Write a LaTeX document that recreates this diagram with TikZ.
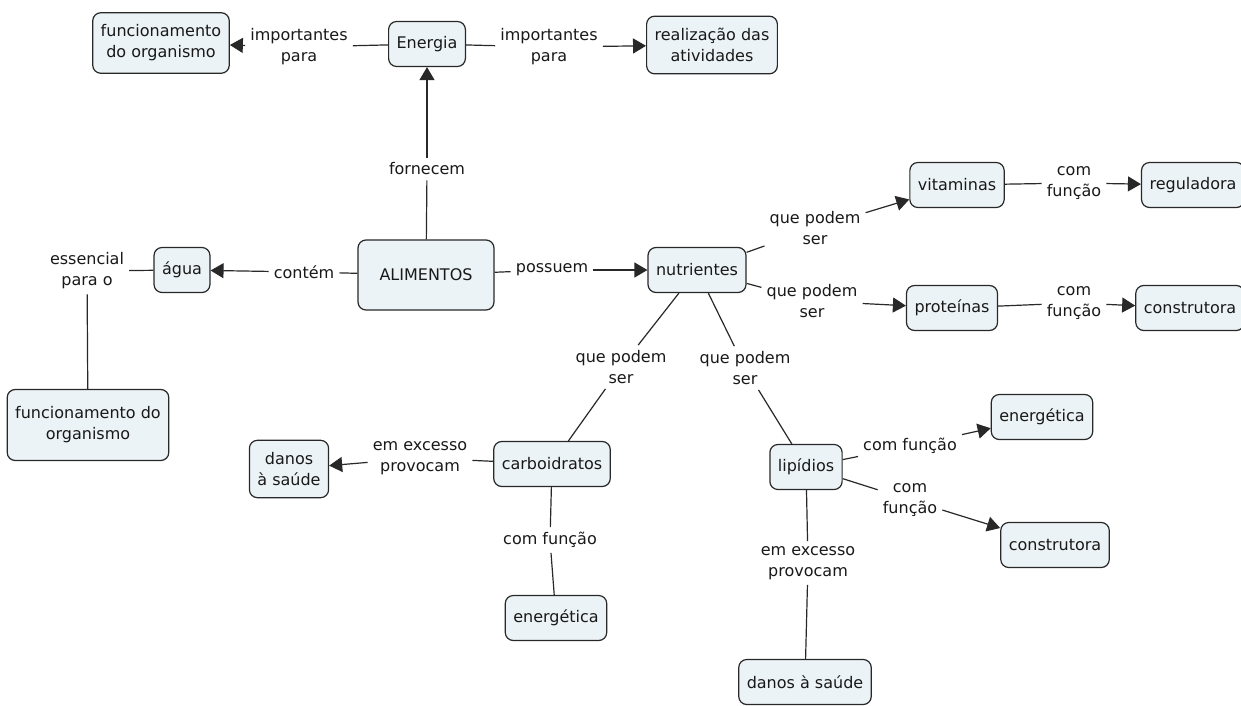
\documentclass[tikz,border=0pt]{standalone}
\usepackage{fontspec}
\setmainfont{DejaVu Sans}
\usetikzlibrary{arrows.meta}
\usepackage{xcolor}

\definecolor{conceptfill}{RGB}{236,243,246}
\definecolor{conceptline}{RGB}{40,40,40}
\definecolor{textgray}{RGB}{25,25,25}

\tikzset{
	conceptbox/.style={draw=conceptline, fill=conceptfill, rounded corners=8pt, line width=1.2pt,
		align=center, minimum height=45pt, inner xsep=8pt, inner ysep=12pt, text=textgray,
		font=\fontsize{16}{21}\selectfont},
	linkphrase/.style={align=center, inner sep=5pt, text=textgray, font=\fontsize{16}{21}\selectfont},
	link/.style={draw=conceptline, line width=1.2pt},
	linkarrow/.style={link, -{Triangle[length=13pt,width=15pt]}},
}

\begin{document}
\begin{tikzpicture}[x=1pt, y=-1pt]
\useasboundingbox[fill=white] (0,0) rectangle (1241,706);

% concepts
\node[conceptbox] (alimentos) at (426,275) [minimum width=136pt, minimum height=70pt] {ALIMENTOS};
\node[conceptbox] (energia) at (427,44) {Energia};
\node[conceptbox] (func1) at (161,43) {funcionamento\\do organismo};
\node[conceptbox] (realizacao) at (712,45) {realização das\\atividades};
\node[conceptbox] (agua) at (182,270) {água};
\node[conceptbox] (func2) at (88,425) [minimum height=71pt] {funcionamento do\\organismo};
\node[conceptbox] (nutrientes) at (697,270) {nutrientes};
\node[conceptbox] (vitaminas) at (957,185) {vitaminas};
\node[conceptbox] (reguladora) at (1193,185) {reguladora};
\node[conceptbox] (proteinas) at (952,308) {proteínas};
\node[conceptbox] (construtora1) at (1190,308) {construtora};
\node[conceptbox] (carbo) at (552,464) {carboidratos};
\node[conceptbox] (danos1) at (289,469) {danos\\à saúde};
\node[conceptbox] (energetica1) at (556,618) {energética};
\node[conceptbox] (lipidios) at (806,467) {lipídios};
\node[conceptbox] (energetica2) at (1042,417) {energética};
\node[conceptbox] (construtora2) at (1055,545) {construtora};
\node[conceptbox] (danos2) at (805,682) {danos à saúde};

% linking phrases
\node[linkphrase] (lpimp1) at (299,47) {importantes\\para};
\node[linkphrase] (lpimp2) at (549,47) {importantes\\para};
\node[linkphrase] (lpforn) at (427,169) {fornecem};
\node[linkphrase] (lpcontem) at (304,272) {contém};
\node[linkphrase] (lpessencial) at (87,271) {essencial\\para o};
\node[linkphrase] (lpposs) at (552,270) {possuem};
\node[linkphrase] (lpvit) at (815,228) {que podem\\ser};
\node[linkphrase] (lpprot) at (812,301) {que podem\\ser};
\node[linkphrase] (lpcarb) at (621,367) {que podem\\ser};
\node[linkphrase] (lplip) at (745,368) {que podem\\ser};
\node[linkphrase] (lpreg) at (1074,183) {com\\função};
\node[linkphrase] (lpcons) at (1074,303) {com\\função};
\node[linkphrase] (lpexc1) at (420,458) {em excesso\\provocam};
\node[linkphrase] (lpfun1) at (550,540) {com função};
\node[linkphrase] (lpfun2) at (910,446) {com função};
\node[linkphrase] (lpfun3) at (910,500) {com\\função};
\node[linkphrase] (lpexc2) at (808,563) {em excesso\\provocam};

% connectors
\draw[link] (energia) -- (lpimp1); \draw[linkarrow] (lpimp1) -- (func1);
\draw[link] (energia) -- (lpimp2); \draw[linkarrow] (lpimp2) -- (realizacao);
\draw[link] (alimentos) -- (lpforn); \draw[linkarrow] (lpforn) -- (energia);
\draw[link] (alimentos) -- (lpcontem); \draw[linkarrow] (lpcontem) -- (agua);
\draw[link] (agua) -- (lpessencial); \draw[link] (lpessencial) -- (func2);
\draw[link] (alimentos) -- (lpposs); \draw[linkarrow] (lpposs) -- (nutrientes);
\draw[link] (nutrientes) -- (lpvit); \draw[linkarrow] (lpvit) -- (vitaminas);
\draw[link] (nutrientes) -- (lpprot); \draw[linkarrow] (lpprot) -- (proteinas);
\draw[link] (vitaminas) -- (lpreg); \draw[linkarrow] (lpreg) -- (reguladora);
\draw[link] (proteinas) -- (lpcons); \draw[linkarrow] (lpcons) -- (construtora1);
\draw[link] (nutrientes) -- (lpcarb); \draw[link] (lpcarb) -- (carbo);
\draw[link] (nutrientes) -- (lplip); \draw[link] (lplip) -- (lipidios);
\draw[link] (carbo) -- (lpexc1); \draw[linkarrow] (lpexc1) -- (danos1);
\draw[link] (carbo) -- (lpfun1); \draw[link] (lpfun1) -- (energetica1);
\draw[link] (lipidios) -- (lpfun2); \draw[linkarrow] (lpfun2) -- (energetica2);
\draw[link] (lipidios) -- (lpfun3); \draw[linkarrow] (lpfun3) -- (construtora2);
\draw[link] (lipidios) -- (lpexc2); \draw[link] (lpexc2) -- (danos2);

\end{tikzpicture}
\end{document}
